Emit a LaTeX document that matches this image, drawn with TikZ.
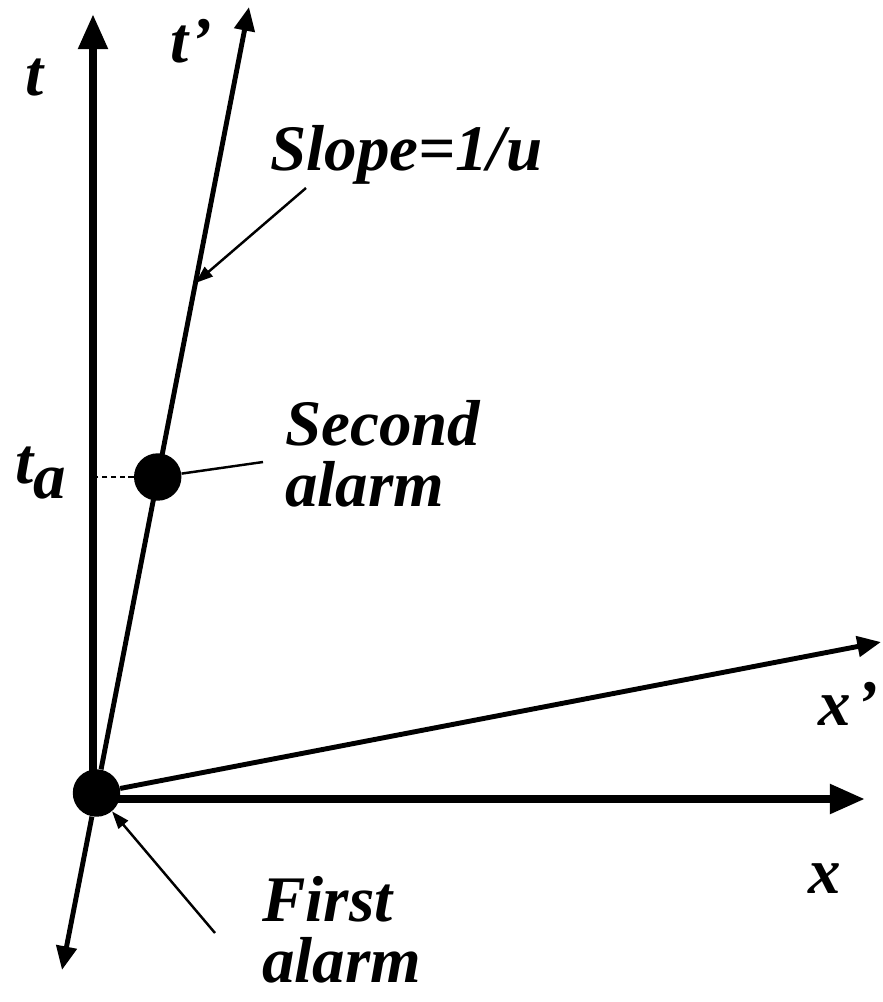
\documentclass[tikz,border=0pt]{standalone}
\usepackage{fontspec}
\setmainfont{Liberation Serif}
\usetikzlibrary{arrows.meta}

\begin{document}
\begin{tikzpicture}[x=0.02cm, y=-0.02cm,
    lbl/.style={font=\fontsize{37}{35}\selectfont\bfseries\itshape, inner sep=0pt},
    dot/.style={circle, fill=black, inner sep=0pt, minimum size=27pt},
    bigaxis/.style={line width=4.5pt, -{Triangle[length=20pt,width=16pt]}},
    axis/.style={line width=2.8pt, -{Triangle[length=13.5pt,width=11.5pt]}},
    pointer/.style={line width=1.4pt},
    guide/.style={line width=1.1pt, dash pattern=on 3pt off 2pt}]
  \useasboundingbox (0,0) rectangle (883,1002);

  % ======= frame S (t, x) =======
  \coordinate (O) at (93,799);
  \coordinate (ttop) at (93,14);
  \coordinate (xtip) at (865,799);
  \draw[bigaxis] (O) -- (ttop);
  \draw[bigaxis] (O) -- (xtip);

  % ======= frame S' (t', x') =======
  \coordinate (tpbot) at (62,970);
  \coordinate (tptop) at (249,7);
  \coordinate (xptip) at (881,642);

  % Alarms
  \node[dot] (first) at (96.5,793) {};
  \node[dot] (second) at (157.7,477) {};

  \draw[axis] (first) -- (tptop);
  \draw[axis] (first) -- (tpbot);
  \draw[axis] (first) -- (xptip);

  % t_a guide
  \draw[guide] (second.west) -- (second.west -| O);

  % Pointers
  \coordinate (slopetail) at (306,188);
  \coordinate (slopetip) at (195.5,283);
  \draw[pointer, -{Triangle[length=10pt,width=7pt]}] (slopetail) -- (slopetip);
  \coordinate (secondtail) at (263,462);
  \draw[pointer] (secondtail) -- (second);
  \coordinate (firsttail) at (215,933);
  \draw[pointer, -{Triangle[length=10pt,width=7pt]}] (firsttail) -- (first);

  % Labels
  \node[lbl, anchor=base west] (tlbl) at (25,95) {t};
  \node[lbl, anchor=base west] (tplbl) at (170,62) {t\kern1pt’};
  \node[lbl, anchor=base west] (talbl) at (15,483) {t\raisebox{-9pt}{a}};
  \node[lbl, anchor=base west] (slopelbl) at (270,170) {Slope=1/u};
  \node[lbl, anchor=north west, align=left] (secondlbl) at (285,400) {Second\\alarm};
  \node[lbl, anchor=north west, align=left] (firstlbl) at (262,876) {First\\alarm};
  \node[lbl, anchor=base west] (xplbl) at (818,725) {x\kern3pt’};
  \node[lbl, anchor=base west] (xlbl) at (808,893) {x};
\end{tikzpicture}
\end{document}
